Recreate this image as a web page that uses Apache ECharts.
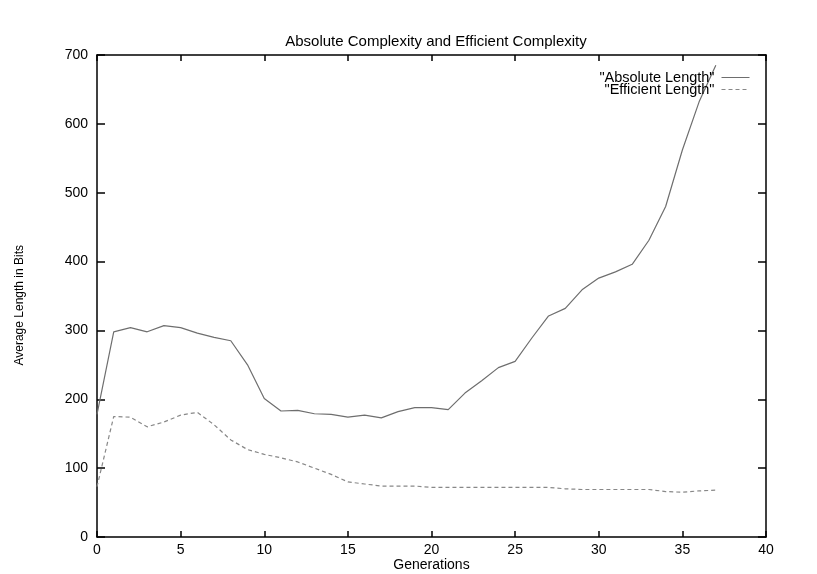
<!DOCTYPE html>
<html>
<head>
<meta charset="utf-8">
<script src="https://cdn.jsdelivr.net/npm/echarts@6/dist/echarts.min.js"></script>
<style>
html, body { margin: 0; padding: 0; background: #fff; }
#chart { width: 817px; height: 574px; }
</style>
</head>
<body>
<div id="chart"></div>
<script>
// Generations 0..37
const generations = [0,1,2,3,4,5,6,7,8,9,10,11,12,13,14,15,16,17,18,19,20,21,22,23,24,25,26,27,28,29,30,31,32,33,34,35,36,37];
// Average absolute genome length (bits)
const absoluteLength = [178,298,304,298,307,304,296,290,285,250,201,183,184,179,178,174,177,173,182,188,188,185,209,227,246,255,289,321,332,359,376,385,396,431,480,562,632,685];
// Average efficient genome length (bits)
const efficientLength = [73,175,174,160,167,177,181,163,141,127,120,115,109,100,91,80,77,74,74,74,72,72,72,72,72,72,72,72,70,69,69,69,69,69,66,65,67,68];
const xTicks = [0,5,10,15,20,25,30,35,40];
const yTicks = [0,100,200,300,400,500,600,700];
const seriesNames = ['"Absolute Length"', '"Efficient Length"'];

const font = 'Liberation Sans, Arial, sans-serif';
const txt = { fontFamily: font, fontSize: 14, color: '#000' };
const frame = { color: '#000', width: 1.5 };

// Box-style frame: every side gets inward ticks
function xAxisSide(pos, labelled) {
  return {
    type: 'value', position: pos, min: xTicks[0], max: xTicks[xTicks.length - 1], interval: 5,
    axisLine: { show: true, onZero: false, lineStyle: frame },
    axisTick: { show: true, inside: true, length: 6, lineStyle: frame },
    axisLabel: labelled ? Object.assign({ margin: 6 }, txt) : { show: false },
    splitLine: { show: false }
  };
}
function yAxisSide(pos, labelled) {
  return {
    type: 'value', position: pos, min: yTicks[0], max: yTicks[yTicks.length - 1], interval: 100,
    axisLine: { show: true, onZero: false, lineStyle: frame },
    axisTick: { show: true, inside: true, length: 8, lineStyle: frame },
    axisLabel: labelled ? Object.assign({ margin: 9 }, txt) : { show: false },
    splitLine: { show: false }
  };
}

const xBottom = Object.assign(xAxisSide('bottom', true), {
  name: 'Generations', nameLocation: 'middle', nameGap: 21, nameMoveOverlap: false,
  nameTextStyle: txt
});

function legendRow(name, top) {
  return {
    data: [name], right: 67, top: top, align: 'right',
    itemWidth: 28, itemHeight: 10, itemGap: 0, padding: 0,
    itemStyle: { opacity: 0 },
    lineStyle: { width: 1 },
    textStyle: Object.assign({}, txt, { fontSize: 14.5, padding: [0, 2, 0, 0] })
  };
}

const chart = echarts.init(document.getElementById('chart'), null, { renderer: 'canvas' });
chart.setOption({
  animation: false,
  backgroundColor: '#fff',
  title: {
    text: 'Absolute Complexity and Efficient Complexity',
    left: 431, top: 29, textAlign: 'center',
    textStyle: Object.assign({}, txt, { fontSize: 15, fontWeight: 'normal' })
  },
  legend: [legendRow(seriesNames[0], 70), legendRow(seriesNames[1], 82)],
  graphic: [{
    type: 'text', left: 14, top: 245, rotation: Math.PI / 2,
    style: { text: 'Average Length in Bits', fontFamily: font, fontSize: 12, fill: '#000' }
  }],
  grid: { left: 97, right: 51, top: 55, bottom: 37, outerBoundsMode: 'none', containLabel: false },
  xAxis: [xBottom, xAxisSide('top', false)],
  yAxis: [yAxisSide('left', true), yAxisSide('right', false)],
  series: [{
    name: seriesNames[0], type: 'line', showSymbol: false, symbol: 'none',
    data: generations.map((g, i) => [g, absoluteLength[i]]),
    lineStyle: { color: '#6e6e6e', width: 1.2, type: 'solid' },
    itemStyle: { color: '#6e6e6e' }
  }, {
    name: seriesNames[1], type: 'line', showSymbol: false, symbol: 'none',
    data: generations.map((g, i) => [g, efficientLength[i]]),
    lineStyle: { color: '#888', width: 1.2, type: [4, 3] },
    itemStyle: { color: '#888' }
  }]
});
</script>
</body>
</html>
